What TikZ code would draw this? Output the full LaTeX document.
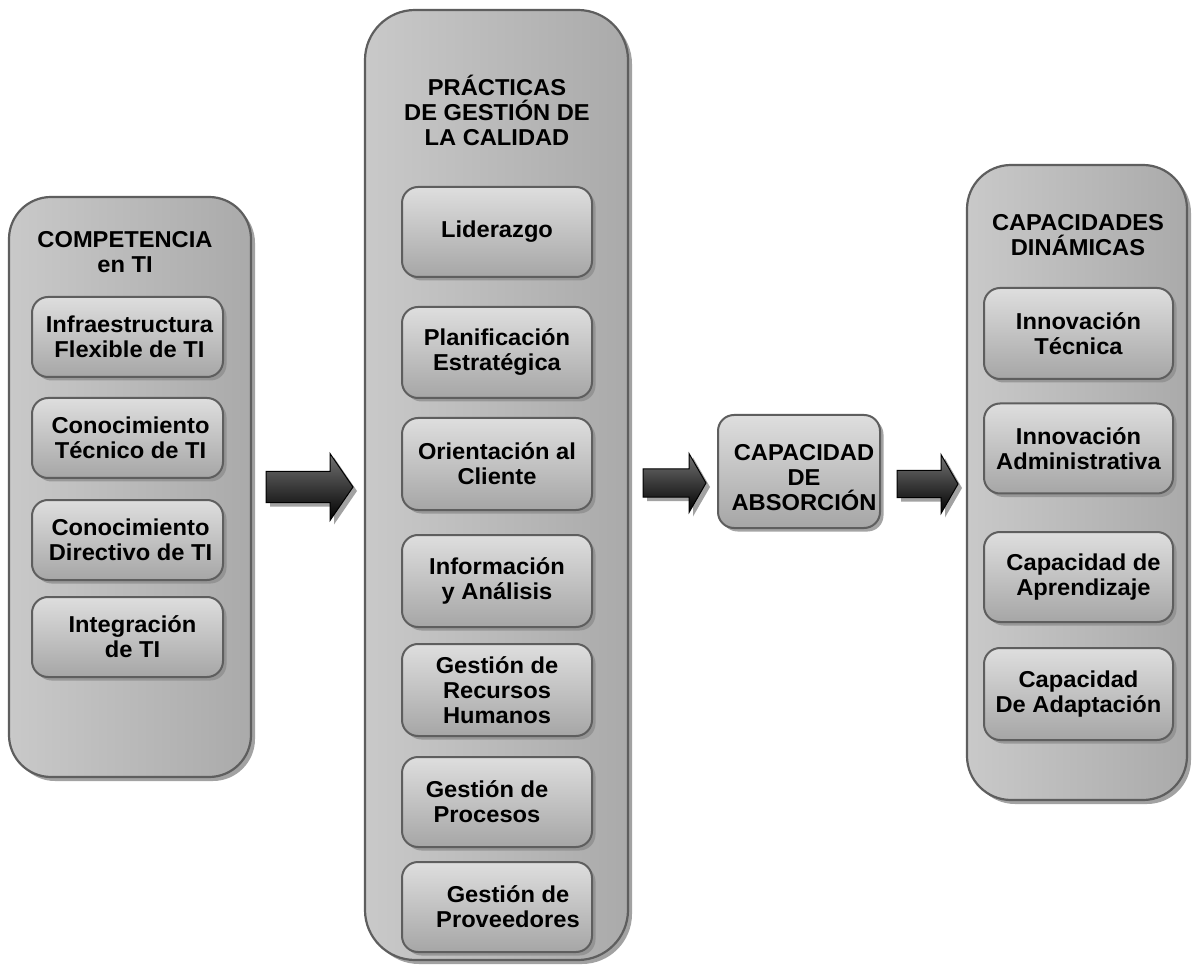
\documentclass[tikz,border=0pt]{standalone}
\usepackage{fontspec}
\newfontfamily\boxfont{Liberation Sans Bold}[FakeStretch=1.03]
\usetikzlibrary{shadows}

\definecolor{edge}{HTML}{5E5E5E}
\definecolor{panelL}{HTML}{C9C9C9}
\definecolor{panelM}{HTML}{D2D2D2}
\definecolor{panelR}{HTML}{AAAAAA}
\definecolor{cellT}{HTML}{DEDEDE}
\definecolor{cellB}{HTML}{A6A6A6}
\definecolor{shadowc}{HTML}{A2A2A2}
\definecolor{shadowi}{HTML}{8E8E8E}

% a box with its text: name, cx, cy, width, height, text dx, text dy, text
\newcommand\cell[8]{%
  \node[cellbox, minimum width=#4pt, minimum height=#5pt] (#1) at (#2,#3) {};
  \node[lbl] (#1-t) at ([xshift=#6pt,yshift=-#7pt]#1.center) {#8};}

% a thick block arrow with its shadow: x tail, x head base, x tip, y axis, shaft half, head half
\newcommand\flowarrow[6]{%
  \fill[shadowc, xshift=4pt, yshift=-4pt]
    (#1,{#4-#5}) -- (#2,{#4-#5}) -- (#2,{#4-#6}) -- (#3,#4) -- (#2,{#4+#6})
    -- (#2,{#4+#5}) -- (#1,{#4+#5}) -- cycle;
  \draw[black, line width=1pt, line join=miter, top color=black!55, middle color=black, bottom color=black]
    (#1,{#4-#5}) -- (#2,{#4-#5}) -- (#2,{#4-#6}) -- (#3,#4) -- (#2,{#4+#6})
    -- (#2,{#4+#5}) -- (#1,{#4+#5}) -- cycle;}

\begin{document}
\begin{tikzpicture}[x=1pt, y=-1pt,
  panel/.style={draw=edge, line width=2.2pt, left color=panelL, middle color=panelM,
    right color=panelR,
    drop shadow={shadow xshift=4pt, shadow yshift=-4pt, fill=shadowc, opacity=1}},
  cellbox/.style={draw=edge, line width=2pt, rounded corners=16pt,
    top color=cellT, bottom color=cellB,
    drop shadow={shadow xshift=3.5pt, shadow yshift=-3.5pt, fill=shadowi, opacity=.8}},
  lbl/.style={font=\boxfont\fontsize{23}{25}\selectfont, align=center, inner sep=0pt},
]
\useasboundingbox (0,0) rectangle (1192,965);
\fill[white] (0,0) rectangle (1192,965);

% outer panels
\node[panel, rounded corners=42pt, minimum width=242pt, minimum height=580pt] (comp) at (130,487) {};
\node[panel, rounded corners=50pt, minimum width=263pt, minimum height=950pt] (pgc) at (496.5,485) {};
\node[panel, rounded corners=44pt, minimum width=220pt, minimum height=635pt] (capd) at (1077,482.5) {};

% panel titles
\node[lbl] (comp-t) at (125,252) {COMPETENCIA\\en TI};
\node[lbl] (pgc-t) at (497,110) {PRÁCTICAS\\DE GESTIÓN DE\\LA CALIDAD};
\node[lbl] (capd-t) at (1078,235) {CAPACIDADES\\DINÁMICAS};

% competencia en TI
\cell{c1}{127.5}{337}{191}{80}{2}{0}{Infraestructura\\Flexible de TI}
\cell{c2}{127.5}{438}{191}{80}{3}{0}{Conocimiento\\Técnico de TI}
\cell{c3}{127.5}{540}{191}{80}{3}{0}{Conocimiento\\Directivo de TI}
\cell{c4}{127.5}{637}{191}{80}{5}{0}{Integración\\de TI}

% prácticas de gestión de la calidad
\cell{p1}{497}{232}{190}{90}{0}{0}{Liderazgo}
\cell{p2}{497}{352.5}{190}{91}{0}{0}{Planificación\\Estratégica}
\cell{p3}{497}{464}{190}{92}{0}{0}{Orientación al\\Cliente}
\cell{p4}{497}{581}{190}{92}{0}{0}{Información\\y Análisis}
\cell{p5}{497}{690}{190}{92}{0}{0}{Gestión de\\Recursos\\Humanos}
\cell{p6}{497}{802}{190}{90}{-10}{0}{Gestión de\\Procesos}
\cell{p7}{497}{907}{190}{90}{11}{0}{Gestión de\\Proveedores}

% capacidad de absorción
\cell{abs}{799}{471.5}{162}{113}{5}{6}{CAPACIDAD\\DE\\ABSORCIÓN}

% capacidades dinámicas
\cell{d1}{1078.5}{333.5}{189}{91}{0}{0}{Innovación\\Técnica}
\cell{d2}{1078.5}{448.5}{189}{90}{0}{0}{Innovación\\Administrativa}
\cell{d3}{1078.5}{577}{189}{90}{5}{0}{Capacidad de\\Aprendizaje}
\cell{d4}{1078.5}{694}{189}{92}{0}{0}{Capacidad\\De Adaptación}

% arrows between the stages
\flowarrow{266}{330}{353}{487}{15.5}{33.5}
\flowarrow{643}{689}{706}{483}{14}{29.5}
\flowarrow{897}{941}{958}{484}{13.5}{29.5}
\end{tikzpicture}
\end{document}
